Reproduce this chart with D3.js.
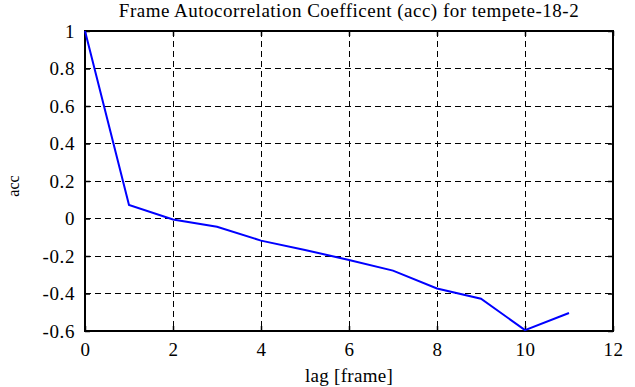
<!DOCTYPE html>
<html>
<head>
<meta charset="utf-8">
<script src="https://cdn.jsdelivr.net/npm/d3@7"></script>
<style>
  body { margin: 0; background: #fff; }
  svg { display: block; }
  svg text { font-family: "Liberation Serif", "DejaVu Serif", serif; fill: #000; }
</style>
</head>
<body>
<div id="chart"></div>
<script>
const WIDTH = 635
const HEIGHT = 387
const LEFT = 85, TOP = 31, RIGHT = 613, BOTTOM = 331

// data
const lags = [0, 1, 2, 3, 4, 5, 6, 7, 8, 9, 10, 11]
const acc = [1.0, 0.072, -0.005, -0.044, -0.118, -0.168, -0.221, -0.278, -0.373, -0.428, -0.595, -0.504]
const xTicks = [0, 2, 4, 6, 8, 10, 12]
const yTicks = [-0.6, -0.4, -0.2, 0, 0.2, 0.4, 0.6, 0.8, 1]

const svg = d3.select("#chart")
    .append("svg")
    .attr("width", WIDTH)
    .attr("height", HEIGHT)

const x = d3.scaleLinear().domain([0, 12]).range([LEFT, RIGHT])
const y = d3.scaleLinear().domain([-0.6, 1]).range([BOTTOM, TOP])

// grid
svg.append("g")
    .selectAll("line")
    .data(xTicks.slice(1, -1))
    .enter().append("line")
    .attr("x1", d => x(d)).attr("x2", d => x(d))
    .attr("y1", TOP).attr("y2", BOTTOM)
    .attr("stroke", "#000").attr("stroke-width", 1)
    .attr("stroke-dasharray", "6,4")
    .attr("shape-rendering", "crispEdges")

svg.append("g")
    .selectAll("line")
    .data(yTicks.slice(1, -1))
    .enter().append("line")
    .attr("x1", LEFT).attr("x2", RIGHT)
    .attr("y1", d => y(d)).attr("y2", d => y(d))
    .attr("stroke", "#000").attr("stroke-width", 1)
    .attr("stroke-dasharray", "6,4")
    .attr("shape-rendering", "crispEdges")

// axes with inward ticks, plain hyphen for negatives
const fmt = d => String(+d.toFixed(1))
svg.append("g")
    .attr("transform", `translate(0,${BOTTOM})`)
    .call(d3.axisBottom(x).tickValues(xTicks).tickSize(-5).tickPadding(12).tickFormat(fmt))
svg.append("g")
    .attr("transform", `translate(0,${TOP})`)
    .call(d3.axisTop(x).tickValues(xTicks).tickSize(-5).tickFormat(""))
svg.append("g")
    .attr("transform", `translate(${LEFT},0)`)
    .call(d3.axisLeft(y).tickValues(yTicks).tickSize(-5).tickPadding(10).tickFormat(fmt))
svg.append("g")
    .attr("transform", `translate(${RIGHT},0)`)
    .call(d3.axisRight(y).tickValues(yTicks).tickSize(-5).tickFormat(""))

svg.selectAll(".domain").remove()
svg.selectAll("g[font-family]").attr("font-family", null).attr("font-size", null)
svg.selectAll(".tick line").attr("stroke", "#000").attr("stroke-width", 1.5)
svg.selectAll(".tick text")
    .attr("fill", "#000")
    .style("font-size", "19px")
    .style("letter-spacing", "0.6px")

// frame
svg.append("rect")
    .attr("x", LEFT).attr("y", TOP)
    .attr("width", RIGHT - LEFT).attr("height", BOTTOM - TOP)
    .attr("fill", "none")
    .attr("stroke", "#000")
    .attr("stroke-width", 2)

// series
const line = d3.line()
    .x((d, i) => x(lags[i]))
    .y(d => y(d))
svg.append("path")
    .datum(acc)
    .attr("d", line)
    .attr("fill", "none")
    .attr("stroke", "#0000ff")
    .attr("stroke-width", 2)

// labels
svg.append("text")
    .attr("x", (LEFT + RIGHT) / 2)
    .attr("y", 17)
    .attr("text-anchor", "middle")
    .style("font-size", "19px")
    .style("letter-spacing", "0.5px")
    .text("Frame Autocorrelation Coefficent (acc) for tempete-18-2")

svg.append("text")
    .attr("x", (LEFT + RIGHT) / 2)
    .attr("y", 382)
    .attr("text-anchor", "middle")
    .style("font-size", "19px")
    .style("letter-spacing", "0.3px")
    .text("lag [frame]")

svg.append("text")
    .attr("transform", `translate(19,186) rotate(-90)`)
    .attr("text-anchor", "middle")
    .style("font-size", "16px")
    .text("acc")
</script>
</body>
</html>
